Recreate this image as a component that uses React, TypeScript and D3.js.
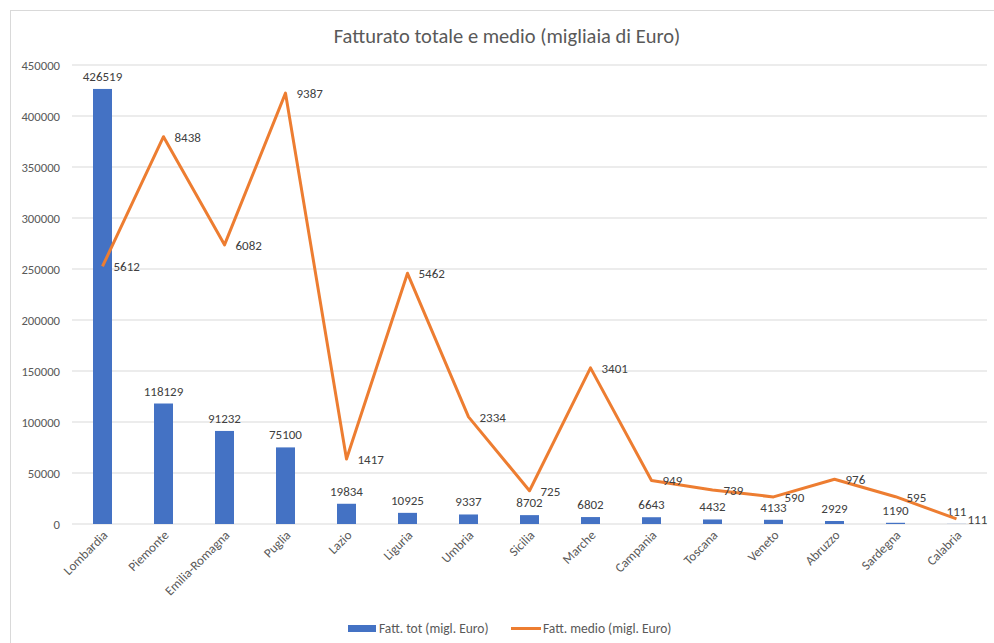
import React from "react";
import * as d3 from "d3";

const categories = ["Lombardia","Piemonte","Emilia-Romagna","Puglia","Lazio","Liguria","Umbria","Sicilia","Marche","Campania","Toscana","Veneto","Abruzzo","Sardegna","Calabria"];
const fattTot = [426519,118129,91232,75100,19834,10925,9337,8702,6802,6643,4432,4133,2929,1190,111];
const fattMedio = [5612,8438,6082,9387,1417,5462,2334,725,3401,949,739,590,976,595,111];
const yTicks = [0,50000,100000,150000,200000,250000,300000,350000,400000,450000];

const W = 994, H = 643;
const left = 72, right = 987, top = 65, bottom = 524;
const FONT = "Carlito, Calibri, 'Liberation Sans', sans-serif";
const TXT = "#595959";

export default function App() {
  const x = d3.scaleBand().domain(categories).range([left, right]);
  const y = d3.scaleLinear().domain([0, 450000]).range([bottom, top]);
  const y2 = d3.scaleLinear().domain([0, 10000]).range([bottom, top]);
  const bw = 19;
  const cx = (c: string) => (x(c) as number) + x.bandwidth() / 2;
  const line = d3.line<number>().x((_, i) => cx(categories[i])).y(d => y2(d));

  return (
    <svg width={W} height={H} style={{ position: "absolute", left: 0, top: 0, background: "#fff" }} fontFamily={FONT}>
      <rect x={10.5} y={10.5} width={1000} height={700} fill="#fff" stroke="#d9d9d9" />
      <text x={507} y={43} textAnchor="middle" fontSize={20.5} fill={TXT}>Fatturato totale e medio (migliaia di Euro)</text>
      {yTicks.map(t => (
        <g key={t}>
          <line x1={left} x2={right} y1={y(t)} y2={y(t)} stroke="#d9d9d9" strokeWidth={1} />
          <text x={60} y={y(t) + 4.5} textAnchor="end" fontSize={12.7} fill={TXT}>{t}</text>
        </g>
      ))}
      {categories.map((c, i) => (
        <g key={c}>
          <rect x={cx(c) - bw / 2} y={y(fattTot[i])} width={bw} height={bottom - y(fattTot[i])} fill="#4472C4" />
          <text x={cx(c)} y={y(fattTot[i]) - 8} textAnchor="middle" fontSize={13} fill="#404040">{fattTot[i]}</text>
          <text transform={`translate(${cx(c) + 6},${bottom + 12}) rotate(-45)`} textAnchor="end" fontSize={13} fill={TXT}>{c}</text>
        </g>
      ))}
      <path d={line(fattMedio) as string} fill="none" stroke="#ED7D31" strokeWidth={3} strokeLinejoin="round" />
      {categories.map((c, i) => (
        <text key={c + "m"} x={cx(c) + 11} y={y2(fattMedio[i]) + 5} fontSize={13} fill="#404040">{fattMedio[i]}</text>
      ))}
      <rect x={348} y={625} width={28} height={7} fill="#4472C4" />
      <text x={379} y={633} fontSize={13.5} fill={TXT}>Fatt. tot (migl. Euro)</text>
      <line x1={511} x2={541} y1={628.5} y2={628.5} stroke="#ED7D31" strokeWidth={3} />
      <text x={543} y={633} fontSize={13.5} fill={TXT}>Fatt. medio (migl. Euro)</text>
    </svg>
  );
}
